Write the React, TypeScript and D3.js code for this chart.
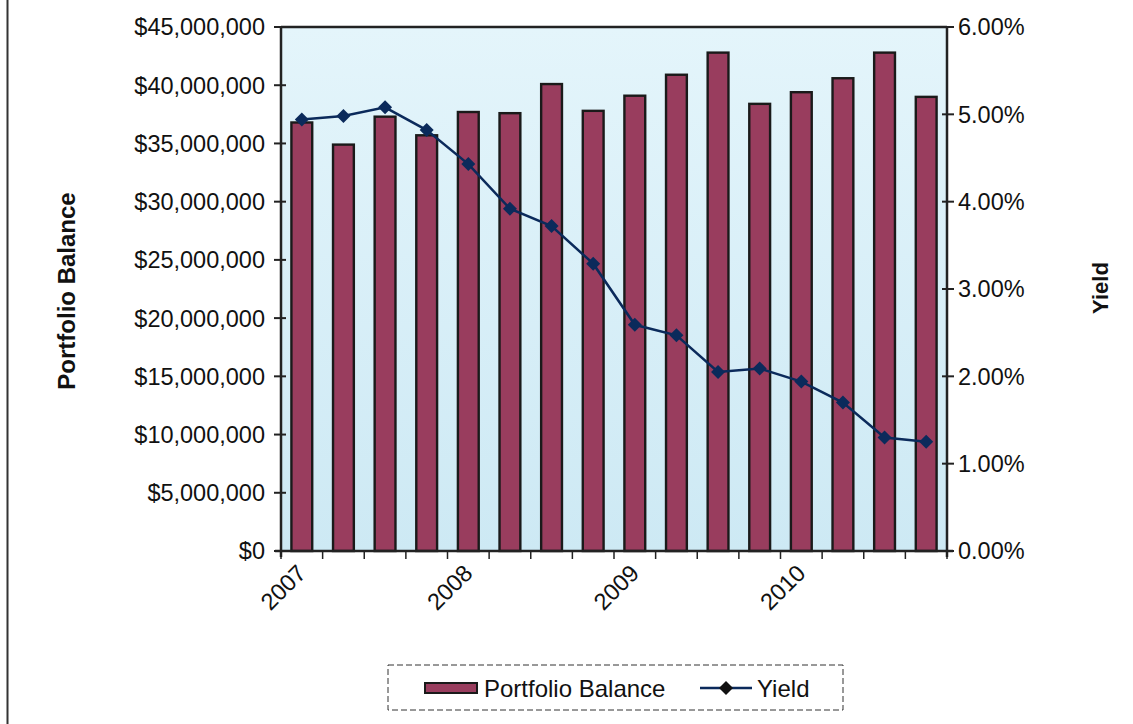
import React from "react";
import * as d3 from "d3";

const categories = [
  "2007Q1", "2007Q2", "2007Q3", "2007Q4",
  "2008Q1", "2008Q2", "2008Q3", "2008Q4",
  "2009Q1", "2009Q2", "2009Q3", "2009Q4",
  "2010Q1", "2010Q2", "2010Q3", "2010Q4",
];
const yearLabels = ["2007", "", "", "", "2008", "", "", "", "2009", "", "", "", "2010", "", "", ""];
const balance = [
  36.8e6, 34.9e6, 37.3e6, 35.7e6,
  37.7e6, 37.6e6, 40.1e6, 37.8e6,
  39.1e6, 40.9e6, 42.8e6, 38.4e6,
  39.4e6, 40.6e6, 42.8e6, 39.0e6,
];
const yieldPct = [
  4.94, 4.98, 5.08, 4.82,
  4.43, 3.92, 3.72, 3.29,
  2.59, 2.47, 2.05, 2.09,
  1.94, 1.70, 1.30, 1.25,
];
const leftTicks = [0, 5e6, 10e6, 15e6, 20e6, 25e6, 30e6, 35e6, 40e6, 45e6];
const rightTicks = [0, 1, 2, 3, 4, 5, 6];

const W = 1133;
const H = 724;
const plot = { left: 281, right: 947, top: 27, bottom: 551 };
const FONT = "Liberation Sans, Arial, sans-serif";

export default function App() {
  const x = d3.scaleBand<string>().domain(categories).range([plot.left, plot.right]).paddingInner(0).paddingOuter(0);
  const yL = d3.scaleLinear().domain([0, 45e6]).range([plot.bottom, plot.top]);
  const yR = d3.scaleLinear().domain([0, 6]).range([plot.bottom, plot.top]);
  const bw = x.bandwidth() * 0.5;
  const fmtMoney = (v: number) => "$" + d3.format(",")(v);
  const fmtPct = (v: number) => v.toFixed(2) + "%";
  const line = d3.line<number>()
    .x((_, i) => (x(categories[i]) as number) + x.bandwidth() / 2)
    .y((d) => yR(d));
  const diamond = d3.symbol().type(d3.symbolSquare).size(98)() as string;

  const bounds = d3.range(categories.length + 1).map((i) => plot.left + i * x.bandwidth());

  return (
    <svg width={W} height={H} style={{ position: "absolute", left: 0, top: 0, background: "#fff" }} fontFamily={FONT}>
      <defs>
        <linearGradient id="bg" x1="0" y1="0" x2="0" y2="1">
          <stop offset="0" stopColor="#e4f5fb" />
          <stop offset="1" stopColor="#cde9f4" />
        </linearGradient>
      </defs>
      {/* outer frame left line */}
      <line x1={7.5} x2={7.5} y1={0} y2={H} stroke="#333" strokeWidth={2} />
      {/* plot area */}
      <rect x={plot.left} y={plot.top} width={plot.right - plot.left} height={plot.bottom - plot.top} fill="url(#bg)" />
      <line x1={plot.left} x2={plot.right} y1={plot.top} y2={plot.top} stroke="#222" strokeWidth={2.5} />
      {/* bars */}
      {balance.map((v, i) => {
        const cx = (x(categories[i]) as number) + x.bandwidth() / 2;
        return (
          <rect key={i} x={cx - bw / 2} y={yL(v)} width={bw} height={plot.bottom - yL(v)}
            fill="#993d5e" stroke="#1a1a1a" strokeWidth={2.4} />
        );
      })}
      {/* axes */}
      <line x1={plot.left} x2={plot.left} y1={plot.top} y2={plot.bottom + 6} stroke="#222" strokeWidth={2.5} />
      <line x1={plot.right} x2={plot.right} y1={plot.top} y2={plot.bottom + 6} stroke="#222" strokeWidth={2.5} />
      <line x1={plot.left - 6} x2={plot.right + 6} y1={plot.bottom} y2={plot.bottom} stroke="#222" strokeWidth={2.5} />
      {leftTicks.map((t) => (
        <g key={"l" + t}>
          <line x1={plot.left - 7} x2={plot.left + 5} y1={yL(t)} y2={yL(t)} stroke="#222" strokeWidth={2} />
          <text x={plot.left - 16} y={yL(t)} dy="0.36em" textAnchor="end" fontSize={23.5} fill="#111">{fmtMoney(t)}</text>
        </g>
      ))}
      {rightTicks.map((t) => (
        <g key={"r" + t}>
          <line x1={plot.right - 5} x2={plot.right + 7} y1={yR(t)} y2={yR(t)} stroke="#222" strokeWidth={2} />
          <text x={plot.right + 11} y={yR(t)} dy="0.36em" textAnchor="start" fontSize={23.5} fill="#111">{fmtPct(t)}</text>
        </g>
      ))}
      {bounds.map((b, i) => (
        <line key={"xt" + i} x1={b} x2={b} y1={plot.bottom} y2={plot.bottom + 8} stroke="#222" strokeWidth={1.5} />
      ))}
      {categories.map((c, i) => {
        if (!yearLabels[i]) return null;
        const cx = (x(c) as number) + x.bandwidth() / 2;
        return (
          <text key={"xl" + i} transform={`translate(${cx - 6},${plot.bottom + 12}) rotate(-45)`} textAnchor="end" dy="0.7em" fontSize={23.5} fill="#111">
            {yearLabels[i]}
          </text>
        );
      })}
      {/* yield line */}
      <path d={line(yieldPct) as string} fill="none" stroke="#0b2a5b" strokeWidth={2.5} />
      {yieldPct.map((v, i) => (
        <path key={"m" + i} d={diamond} transform={`translate(${(x(categories[i]) as number) + x.bandwidth() / 2},${yR(v)}) rotate(45)`} fill="#0b2a5b" />
      ))}
      {/* axis titles */}
      <text transform={`translate(75,291) rotate(-90)`} textAnchor="middle" fontSize={24} fontWeight="bold" fill="#111">Portfolio Balance</text>
      <text transform={`translate(1108,288) rotate(-90)`} textAnchor="middle" fontSize={22} fontWeight="bold" fill="#111">Yield</text>
      {/* legend */}
      <rect x={388} y={665} width={455} height={45} fill="#fff" stroke="#333" strokeWidth={1} strokeDasharray="6,3" />
      <rect x={425} y={683} width={52} height={10} fill="#993d5e" stroke="#1a1a1a" strokeWidth={2} />
      <text x={484} y={688} dy="0.36em" fontSize={24} fill="#111">Portfolio Balance</text>
      <line x1={700} x2={752} y1={688} y2={688} stroke="#0b2a5b" strokeWidth={2.5} />
      <path d={diamond} transform="translate(726,688) rotate(45)" fill="#111" />
      <text x={757} y={688} dy="0.36em" fontSize={24} fill="#111">Yield</text>
    </svg>
  );
}
